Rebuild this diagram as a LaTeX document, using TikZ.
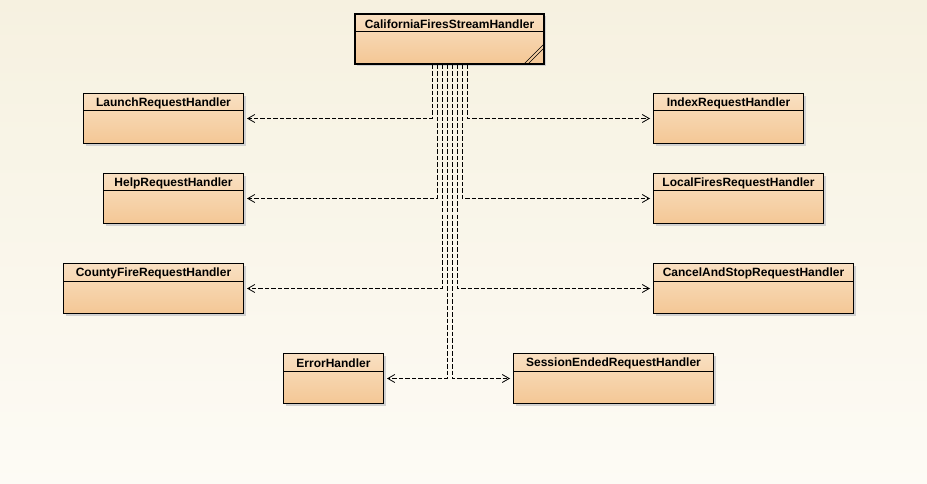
\documentclass[tikz,border=0pt]{standalone}
\usepackage{fontspec}
\setmainfont{Liberation Sans}
\usetikzlibrary{arrows.meta,positioning}

\definecolor{bgtop}{HTML}{F6F1E0}
\definecolor{bgbot}{HTML}{FDFBF5}
\definecolor{boxtop}{HTML}{F9E0C2}
\definecolor{boxbot}{HTML}{F4C795}

\tikzset{
    classbox/.style={draw=black, line width=1pt, top color=boxtop, bottom color=boxbot,
        minimum height=50pt, anchor=north west, inner sep=0pt},
    classname/.style={font=\fontsize{12pt}{14pt}\selectfont\bfseries, inner sep=0pt},
    dep/.style={dash pattern=on 4.5pt off 2pt, line width=0.8pt,
        -{Straight Barb[length=7pt,width=8pt]}, shorten >=3pt},
}

\newcommand{\umlclass}[5]{%
    % #1 name, #2 x, #3 y, #4 width, #5 title
    \fill[black!18] (#2+3,#3+3) rectangle ++(#4,50);
    \node[classbox, minimum width=#4pt] (#1) at (#2,#3) {};
    \draw[line width=1pt] ([yshift=-18pt]#1.north west) -- ([yshift=-18pt]#1.north east);
    \node[classname] (#1-title) at ([yshift=-10.5pt]#1.north) {#5};
}

\begin{document}
\begin{tikzpicture}[x=1pt, y=-1pt]
    % background
    \shade[shading angle=225, top color=bgtop, bottom color=bgbot]
        (0,0) rectangle (927,484);
    \useasboundingbox (0,0) rectangle (927,484);

    % root class
    \fill[black!18] (357,16) rectangle ++(189,50);
    \node[classbox, line width=2pt, minimum width=189pt] (root) at (354,13) {};
    \draw[line width=1pt] ([yshift=-19pt]root.north west) -- ([yshift=-19pt]root.north east);
    \node[classname] (root-title) at ([yshift=-11pt]root.north) {CaliforniaFiresStreamHandler};
    \draw[line width=0.6pt] ([xshift=-21pt,yshift=1pt]root.south east) -- ([xshift=-1pt,yshift=21pt]root.south east);
    \draw[line width=0.6pt] ([xshift=-17pt,yshift=1pt]root.south east) -- ([xshift=-1pt,yshift=17pt]root.south east);

    % handler classes
    \umlclass{launch}{83}{93}{160}{LaunchRequestHandler}
    \umlclass{index}{653}{93}{150}{IndexRequestHandler}
    \umlclass{help}{103}{173}{140}{HelpRequestHandler}
    \umlclass{local}{653}{173}{170}{LocalFiresRequestHandler}
    \umlclass{county}{63}{263}{180}{CountyFireRequestHandler}
    \umlclass{cancel}{653}{263}{200}{CancelAndStopRequestHandler}
    \umlclass{error}{283}{353}{100}{ErrorHandler}
    \umlclass{session}{513}{353}{200}{SessionEndedRequestHandler}

    % dependencies
    \draw[dep] ([xshift=-17.5pt]root.south) |- (launch.east);
    \draw[dep] ([xshift=17.5pt]root.south) |- (index.west);
    \draw[dep] ([xshift=-12.5pt]root.south) |- (help.east);
    \draw[dep] ([xshift=12.5pt]root.south) |- (local.west);
    \draw[dep] ([xshift=-7.5pt]root.south) |- (county.east);
    \draw[dep] ([xshift=7.5pt]root.south) |- (cancel.west);
    \draw[dep] ([xshift=-2.5pt]root.south) |- (error.east);
    \draw[dep] ([xshift=2.5pt]root.south) |- (session.west);
\end{tikzpicture}
\end{document}
